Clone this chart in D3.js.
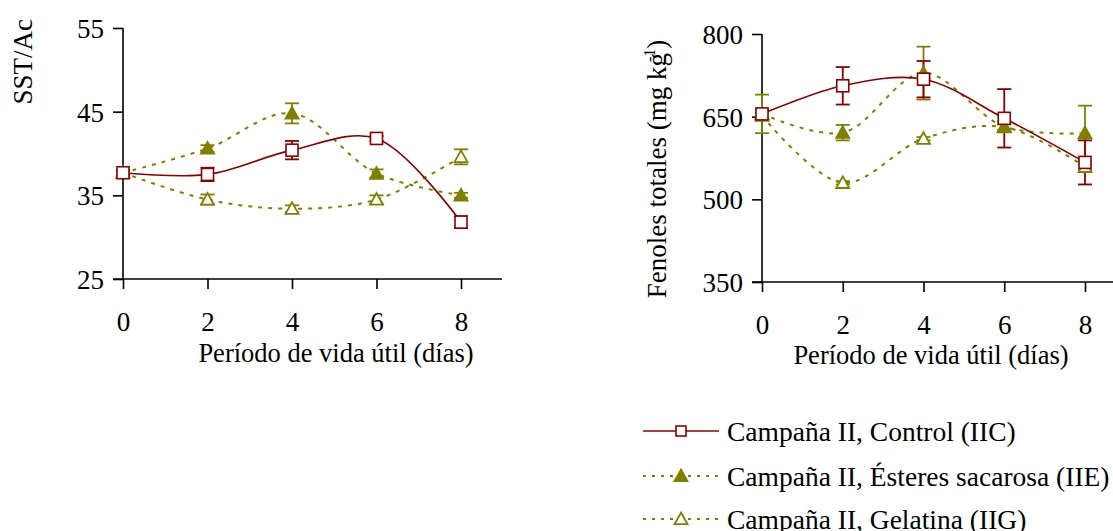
<!DOCTYPE html>
<html><head><meta charset="utf-8">
<script src="https://cdn.jsdelivr.net/npm/d3@7"></script>
<style>
body{margin:0;background:#fff;}
svg text{font-family:"Liberation Serif","Times New Roman",serif;fill:#000;}
</style></head>
<body><svg id="c" width="1113" height="531"></svg>
<script>
// ---- data ----
const days = [0, 2, 4, 6, 8];
const seriesNames = ["Campaña II, Control (IIC)", "Campaña II, Ésteres sacarosa (IIE)", "Campaña II, Gelatina (IIG)"];
// SST/Ac
const sstControl = [37.7, 37.5, 40.4, 41.8, 31.8];
const sstControlErr = [0.3, 0.8, 1.1, 0.3, 0.7];
const sstEsteres = [37.7, 40.6, 44.8, 37.6, 35.0];
const sstEsteresErr = [0.3, 0.4, 1.2, 0.5, 0.3];
const sstGelatina = [37.7, 34.5, 33.4, 34.5, 39.6];
const sstGelatinaErr = [0.3, 0.6, 0.4, 0.5, 0.9];
// Fenoles totales
const fenControl = [655, 706, 718, 647, 567];
const fenControlErr = [8, 34, 33, 53, 40];
const fenEsteres = [655, 621, 729, 632, 620];
const fenEsteresErr = [35, 14, 48, 10, 50];
const fenGelatina = [652, 530, 610, 631, 559];
const fenGelatinaErr = [5, 3, 3, 5, 5];
const sstTicks = [25, 35, 45, 55];
const fenTicks = [350, 500, 650, 800];
const xTicks = [0, 2, 4, 6, 8];

const RED = "#8b0000", OLIVE = "#808000";
const styles = [
  {color: RED, dash: null, marker: "square", width: 1.6},
  {color: OLIVE, dash: "4,6", marker: "triFilled", width: 2},
  {color: OLIVE, dash: "4,6", marker: "triOpen", width: 2}
];

const svg = d3.select("#c");
const FS = 27;

function drawMarker(g, type, x, y, color) {
  if (type === "square") {
    g.append("rect").attr("x", x - 6).attr("y", y - 6).attr("width", 12).attr("height", 12)
      .attr("fill", "#fff").attr("stroke", color).attr("stroke-width", 1.6);
  } else {
    const s = 6.5;
    const p = `M${x},${y - s}L${x + s},${y + s * 0.8}L${x - s},${y + s * 0.8}Z`;
    g.append("path").attr("d", p)
      .attr("fill", type === "triFilled" ? color : "#fff").attr("stroke", color).attr("stroke-width", 1.8);
  }
}

function panel(opt) {
  const g = svg.append("g");
  const x = d3.scaleLinear().domain([0, 8]).range([opt.x0, opt.x8]);
  const y = d3.scaleLinear().domain(opt.yDomain).range([opt.yBottom, opt.yTop]);
  // axes
  g.append("line").attr("x1", opt.x0).attr("x2", opt.x0).attr("y1", opt.yTop).attr("y2", opt.yBottom)
    .attr("stroke", "#000").attr("stroke-width", 1.6);
  g.append("line").attr("x1", opt.x0 - 10).attr("x2", opt.xEnd).attr("y1", opt.yBottom).attr("y2", opt.yBottom)
    .attr("stroke", "#000").attr("stroke-width", 1.6);
  const ya = d3.axisLeft(y).tickValues(opt.yTicks).tickSize(10).tickPadding(9).tickSizeOuter(0);
  const yg = g.append("g").attr("transform", `translate(${opt.x0},0)`).call(ya);
  yg.select(".domain").remove();
  yg.selectAll("line").attr("stroke", "#000").attr("stroke-width", 1.6);
  yg.selectAll("text").attr("font-size", FS).attr("font-family", "Liberation Serif").attr("dy", "0.35em");
  const xa = d3.axisBottom(x).tickValues(xTicks).tickSize(10).tickPadding(23).tickSizeOuter(0);
  const xg = g.append("g").attr("transform", `translate(0,${opt.yBottom})`).call(xa);
  xg.select(".domain").remove();
  xg.selectAll("line").attr("stroke", "#000").attr("stroke-width", 1.6);
  xg.selectAll("text").attr("font-size", FS).attr("font-family", "Liberation Serif");
  // x label
  g.append("text").attr("x", opt.xLabelX).attr("y", opt.xLabelY).attr("text-anchor", "middle")
    .attr("font-size", 26.5).text("Período de vida útil (días)");
  // y label
  const yl = g.append("text").attr("transform", `translate(${opt.yLabelX},${opt.yLabelY}) rotate(-90)`)
    .attr("text-anchor", opt.yLabelAnchor).attr("font-size", FS);
  opt.yLabel(yl);

  const line = d3.line().x((d, i) => x(days[i])).y(d => y(d)).curve(d3.curveCatmullRom.alpha(0.5));
  const order = [2, 1, 0];
  order.forEach(k => {
    const st = styles[k];
    g.append("path").attr("d", line(opt.series[k])).attr("fill", "none")
      .attr("stroke", st.color).attr("stroke-width", st.width)
      .attr("stroke-dasharray", st.dash);
  });
  order.forEach(k => {
    const st = styles[k];
    opt.series[k].forEach((v, i) => {
      const e = opt.errs[k][i];
      const cx = x(days[i]);
      const y1 = y(v - e), y2 = y(v + e);
      g.append("line").attr("x1", cx).attr("x2", cx).attr("y1", y1).attr("y2", y2)
        .attr("stroke", st.color).attr("stroke-width", 1.8);
      [y1, y2].forEach(yy => g.append("line").attr("x1", cx - 7).attr("x2", cx + 7).attr("y1", yy).attr("y2", yy)
        .attr("stroke", st.color).attr("stroke-width", 1.8));
    });
  });
  order.forEach(k => {
    const st = styles[k];
    opt.series[k].forEach((v, i) => drawMarker(g, st.marker, x(days[i]), y(v), st.color));
  });
}

panel({
  x0: 123, x8: 461, xEnd: 502, yTop: 28, yBottom: 279, yDomain: [25, 55], yTicks: sstTicks,
  xLabelX: 336, xLabelY: 362, yLabelX: 32, yLabelY: 19, yLabelAnchor: "end",
  yLabel: t => t.text("SST/Ac"),
  series: [sstControl, sstEsteres, sstGelatina], errs: [sstControlErr, sstEsteresErr, sstGelatinaErr]
});
panel({
  x0: 762, x8: 1085, xEnd: 1113, yTop: 34, yBottom: 282, yDomain: [350, 800], yTicks: fenTicks,
  xLabelX: 931, xLabelY: 364, yLabelX: 666, yLabelY: 169, yLabelAnchor: "middle",
  yLabel: t => { t.append("tspan").text("Fenoles totales (mg kg");
    t.append("tspan").attr("font-size", 16).attr("dy", -11).attr("dx", -9).text("-1");
    t.append("tspan").attr("dy", 11).text(")"); },
  series: [fenControl, fenEsteres, fenGelatina], errs: [fenControlErr, fenEsteresErr, fenGelatinaErr]
});

// legend
const lg = svg.append("g");
const rowsY = [431, 476, 519];
seriesNames.forEach((name, k) => {
  const st = styles[k];
  const yy = rowsY[k];
  lg.append("line").attr("x1", 643).attr("x2", 719).attr("y1", yy).attr("y2", yy)
    .attr("stroke", st.color).attr("stroke-width", st.width).attr("stroke-dasharray", st.dash ? "3,6" : null);
  if (st.marker === "square") {
    lg.append("rect").attr("x", 676).attr("y", yy - 5).attr("width", 10).attr("height", 10)
      .attr("fill", "#fff").attr("stroke", st.color).attr("stroke-width", 1.6);
  } else {
    drawMarker(lg, st.marker, 681, yy, st.color);
  }
  lg.append("text").attr("x", 727).attr("y", yy).attr("dy", "0.35em").attr("font-size", 27.5).text(name);
});
</script></body></html>
